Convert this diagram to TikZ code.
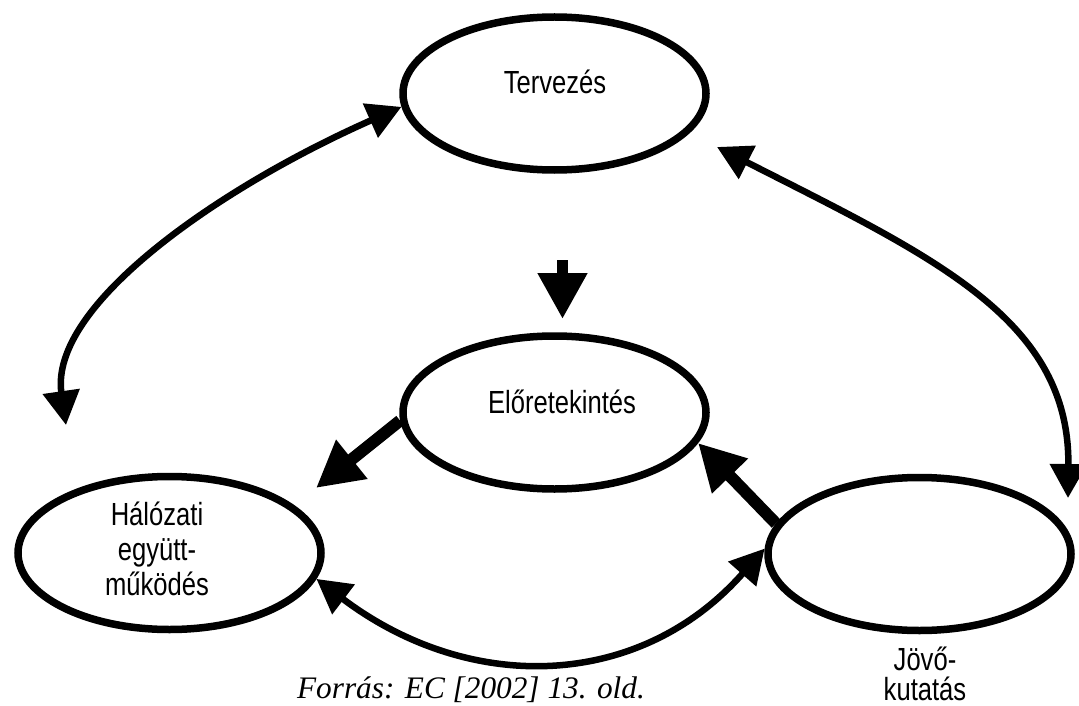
\documentclass[tikz,border=0pt]{standalone}
\usepackage{fontspec}
\usetikzlibrary{shapes.geometric,arrows.meta}
\newfontfamily\lblfont[FakeStretch=0.8]{Liberation Sans}
\newfontfamily\srcfont{Liberation Serif}

\begin{document}
\begin{tikzpicture}[x=1pt,y=-1pt,
  blob/.style={ellipse,draw=black,line width=7.5pt,minimum width=303pt,minimum height=153pt,inner sep=0pt},
  lbl/.style={anchor=base,align=center,inner sep=0pt,font=\lblfont\fontsize{32}{35}\selectfont},
  linkarc/.style={line width=6.5pt,{Triangle[length=34pt,width=36pt]}-{Triangle[length=34pt,width=36pt]}},
  fatarrow/.style={line width=12pt,-{Triangle[length=46pt,width=47pt]}}]
\useasboundingbox (0,0) rectangle (1079,706);
\node[blob] (terv) at (554.5,93.5) {};
\node[blob] (elo) at (554.5,412.5) {};
\node[blob] (hal) at (169.5,553) {};
\node[blob] (jov) at (919.5,554) {};
\node[lbl] (terv-t) at (555,94) {Tervezés};
\node[lbl] (elo-t) at (562,413) {Előretekintés};
\node[lbl] (hal-t) at (157,595) {Hálózati\\együtt-\\működés};
\node[lbl,font=\lblfont\fontsize{32}{30}\selectfont] (jov-t) at (925,700) {Jövő-\\kutatás};
\node[anchor=base,inner sep=0pt,font=\srcfont\itshape\fontsize{31.3}{36}\selectfont] (forras) at (471,698) {Forrás: EC [2002] 13. old.};
% free ends
\coordinate (in-top) at (562.5,260);
\coordinate (in-tip) at (562.5,319);
\coordinate (hal-arc) at (66,425);
\coordinate (terv-arc) at (717,147);
\coordinate (jov-arc) at (1068,498);
\coordinate (hal-fat) at (316,488);
% arcs
\draw[linkarc] (terv.185) .. controls (218,188) and (49,306) .. (hal-arc);
\draw[linkarc] (terv-arc) .. controls (931,256) and (1070,318) .. (jov-arc);
\draw[linkarc] (hal.-10) .. controls (470,695) and (640,690) .. (jov.178);
% thick arrows
\draw[fatarrow,line width=11pt] (in-top) -- (in-tip);
\draw[fatarrow] (elo.183.5) -- (hal-fat);
\draw[fatarrow] (jov.168) -- (elo.-12);
\end{tikzpicture}
\end{document}
